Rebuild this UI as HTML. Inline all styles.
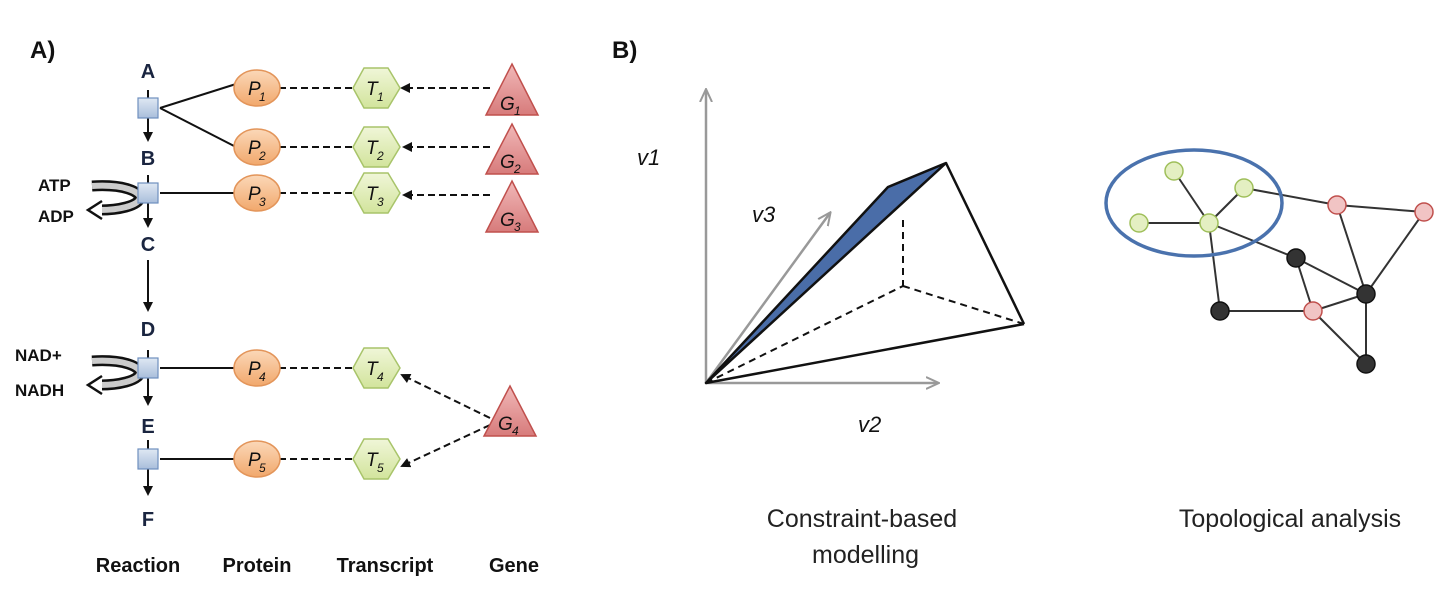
<!DOCTYPE html>
<html><head><meta charset="utf-8"><style>
html,body{margin:0;padding:0;background:#fff;}
svg{display:block;font-family:"Liberation Sans",sans-serif;}
.lab{font-weight:bold;font-size:20px;fill:#1a2540;}
.bl{font-weight:bold;font-size:20px;fill:#111;}
.it{font-style:italic;font-size:19px;fill:#111;}
.sub{font-style:italic;font-size:12px;fill:#111;}
</style></head><body>
<svg width="1448" height="612" viewBox="0 0 1448 612">
<defs>
<marker id="ah" markerWidth="10" markerHeight="10" refX="8" refY="5" orient="auto" markerUnits="userSpaceOnUse"><path d="M0,0 L10,5 L0,10 z" fill="#111"/></marker>
<marker id="ag" markerWidth="14" markerHeight="14" refX="12" refY="7" orient="auto" markerUnits="userSpaceOnUse"><path d="M0,1 L13,7 L0,13" fill="none" stroke="#999" stroke-width="2"/></marker>
<linearGradient id="sq" x1="0" y1="0" x2="0" y2="1"><stop offset="0" stop-color="#dfe8f3"/><stop offset="1" stop-color="#a9bedb"/></linearGradient>
<linearGradient id="pg" x1="0" y1="0" x2="0" y2="1"><stop offset="0" stop-color="#fbd8b8"/><stop offset="1" stop-color="#f1a86c"/></linearGradient>
<linearGradient id="tg" x1="0" y1="0" x2="0" y2="1"><stop offset="0" stop-color="#f0f6d8"/><stop offset="1" stop-color="#d2e49c"/></linearGradient>
<linearGradient id="gg" x1="0" y1="0" x2="0" y2="1"><stop offset="0" stop-color="#f1b8b8"/><stop offset="1" stop-color="#d77b7b"/></linearGradient>
</defs>

<text x="30" y="58" class="bl" style="font-size:24px">A)</text>
<text x="612" y="58" class="bl" style="font-size:24px">B)</text>

<g>
<path d="M92,186 C125,184 140,192 140,198 C138,206 118,210 100,210" fill="none" stroke="#111" stroke-width="11"/>
<path d="M92,186 C125,184 140,192 140,198 C138,206 118,210 100,210" fill="none" stroke="#ccc" stroke-width="6"/>
<path d="M102,201 L88,210 L102,219" fill="#fff" stroke="#111" stroke-width="2.5"/>
<text x="38" y="191" class="bl" style="font-size:17px">ATP</text>
<text x="38" y="222" class="bl" style="font-size:17px">ADP</text>
<path d="M92,361 C125,359 140,367 140,373 C138,381 118,385 100,385" fill="none" stroke="#111" stroke-width="11"/>
<path d="M92,361 C125,359 140,367 140,373 C138,381 118,385 100,385" fill="none" stroke="#ccc" stroke-width="6"/>
<path d="M102,376 L88,385 L102,394" fill="#fff" stroke="#111" stroke-width="2.5"/>
<text x="15" y="361" class="bl" style="font-size:17px">NAD+</text>
<text x="15" y="396" class="bl" style="font-size:17px">NADH</text>
</g>

<g>
<text x="148" y="78" class="lab" text-anchor="middle">A</text>
<text x="148" y="165" class="lab" text-anchor="middle">B</text>
<text x="148" y="251" class="lab" text-anchor="middle">C</text>
<text x="148" y="336" class="lab" text-anchor="middle">D</text>
<text x="148" y="433" class="lab" text-anchor="middle">E</text>
<text x="148" y="526" class="lab" text-anchor="middle">F</text>
<g stroke="#111" stroke-width="2">
<line x1="148" y1="90" x2="148" y2="140" marker-end="url(#ah)"/>
<line x1="148" y1="175" x2="148" y2="226" marker-end="url(#ah)"/>
<line x1="148" y1="260" x2="148" y2="310" marker-end="url(#ah)"/>
<line x1="148" y1="350" x2="148" y2="404" marker-end="url(#ah)"/>
<line x1="148" y1="440" x2="148" y2="494" marker-end="url(#ah)"/>
<line x1="160" y1="108" x2="236" y2="84"/>
<line x1="160" y1="108" x2="236" y2="147"/>
<line x1="160" y1="193" x2="236" y2="193"/>
<line x1="160" y1="368" x2="236" y2="368"/>
<line x1="160" y1="459" x2="236" y2="459"/>
</g>
<g fill="url(#sq)" stroke="#6f8fbf" stroke-width="1.2">
<rect x="138" y="98" width="20" height="20"/>
<rect x="138" y="183" width="20" height="20"/>
<rect x="138" y="358" width="20" height="20"/>
<rect x="138" y="449" width="20" height="20"/>
</g>
</g>

<g stroke="#111" stroke-width="2" stroke-dasharray="7,4" fill="none">
<line x1="279" y1="88" x2="352" y2="88"/>
<line x1="279" y1="147" x2="352" y2="147"/>
<line x1="279" y1="193" x2="352" y2="193"/>
<line x1="279" y1="368" x2="352" y2="368"/>
<line x1="279" y1="459" x2="352" y2="459"/>
<line x1="490" y1="88" x2="402" y2="88" marker-end="url(#ah)"/>
<line x1="490" y1="147" x2="404" y2="147" marker-end="url(#ah)"/>
<line x1="490" y1="195" x2="404" y2="195" marker-end="url(#ah)"/>
<line x1="490" y1="418" x2="402" y2="375" marker-end="url(#ah)"/>
<line x1="490" y1="425" x2="402" y2="466" marker-end="url(#ah)"/>
</g>

<g>
<g fill="url(#pg)" stroke="#e3955a" stroke-width="1.5">
<ellipse cx="257" cy="88" rx="23" ry="18"/><ellipse cx="257" cy="147" rx="23" ry="18"/><ellipse cx="257" cy="193" rx="23" ry="18"/><ellipse cx="257" cy="368" rx="23" ry="18"/><ellipse cx="257" cy="459" rx="23" ry="18"/>
</g>
<text x="248" y="95" class="it">P</text><text x="259" y="101" class="sub">1</text>
<text x="248" y="154" class="it">P</text><text x="259" y="160" class="sub">2</text>
<text x="248" y="200" class="it">P</text><text x="259" y="206" class="sub">3</text>
<text x="248" y="375" class="it">P</text><text x="259" y="381" class="sub">4</text>
<text x="248" y="466" class="it">P</text><text x="259" y="472" class="sub">5</text>
</g>

<g>
<g fill="url(#tg)" stroke="#a8c46a" stroke-width="1.5">
<polygon points="353,88 364,68 388,68 400,88 388,108 364,108"/>
<polygon points="353,147 364,127 388,127 400,147 388,167 364,167"/>
<polygon points="353,193 364,173 388,173 400,193 388,213 364,213"/>
<polygon points="353,368 364,348 388,348 400,368 388,388 364,388"/>
<polygon points="353,459 364,439 388,439 400,459 388,479 364,479"/>
</g>
<text x="366" y="95" class="it">T</text><text x="377" y="101" class="sub">1</text>
<text x="366" y="154" class="it">T</text><text x="377" y="160" class="sub">2</text>
<text x="366" y="200" class="it">T</text><text x="377" y="206" class="sub">3</text>
<text x="366" y="375" class="it">T</text><text x="377" y="381" class="sub">4</text>
<text x="366" y="466" class="it">T</text><text x="377" y="472" class="sub">5</text>
</g>

<g>
<g fill="url(#gg)" stroke="#c0504d" stroke-width="1.5">
<polygon points="512,64 538,115 486,115"/>
<polygon points="512,124 538,174 486,174"/>
<polygon points="512,181 538,232 486,232"/>
<polygon points="510,386 536,436 484,436"/>
</g>
<text x="500" y="110" class="it">G</text><text x="514" y="115" class="sub">1</text>
<text x="500" y="168" class="it">G</text><text x="514" y="173" class="sub">2</text>
<text x="500" y="226" class="it">G</text><text x="514" y="231" class="sub">3</text>
<text x="498" y="430" class="it">G</text><text x="512" y="435" class="sub">4</text>
</g>

<g>
<text x="138" y="572" class="bl" text-anchor="middle">Reaction</text>
<text x="257" y="572" class="bl" text-anchor="middle">Protein</text>
<text x="385" y="572" class="bl" text-anchor="middle">Transcript</text>
<text x="514" y="572" class="bl" text-anchor="middle">Gene</text>
</g>

<g>
<line x1="706" y1="383" x2="706" y2="90" stroke="#999" stroke-width="2.5" marker-end="url(#ag)"/>
<line x1="706" y1="383" x2="938" y2="383" stroke="#999" stroke-width="2.5" marker-end="url(#ag)"/>
<line x1="706" y1="383" x2="830" y2="213" stroke="#999" stroke-width="2.5" marker-end="url(#ag)"/>
<text x="637" y="165" style="font-style:italic;font-size:22px" fill="#111">v1</text>
<text x="752" y="222" style="font-style:italic;font-size:22px" fill="#111">v3</text>
<text x="858" y="432" style="font-style:italic;font-size:22px" fill="#111">v2</text>
<polygon points="706,383 888,187 946,163" fill="#4a6da8" stroke="#111" stroke-width="2.5" stroke-linejoin="round"/>
<g stroke="#111" stroke-width="2" stroke-dasharray="7,5">
<line x1="903" y1="220" x2="903" y2="286"/><line x1="903" y1="286" x2="1024" y2="324"/><line x1="706" y1="383" x2="903" y2="286"/>
</g>
<g stroke="#111" stroke-width="2.5" fill="none">
<line x1="946" y1="163" x2="1024" y2="324"/><line x1="706" y1="383" x2="1024" y2="324"/>
</g>
<text x="862" y="527" text-anchor="middle" style="font-size:25px" fill="#222">Constraint-based</text>
<text x="812" y="563" style="font-size:25px" fill="#222">modelling</text>
</g>

<g>
<g stroke="#333" stroke-width="2">
<line x1="1174" y1="171" x2="1209" y2="223"/><line x1="1244" y1="188" x2="1209" y2="223"/><line x1="1139" y1="223" x2="1209" y2="223"/>
<line x1="1244" y1="188" x2="1337" y2="205"/><line x1="1209" y1="223" x2="1296" y2="258"/><line x1="1209" y1="223" x2="1220" y2="311"/>
<line x1="1337" y1="205" x2="1424" y2="212"/><line x1="1337" y1="205" x2="1366" y2="294"/><line x1="1424" y1="212" x2="1366" y2="294"/>
<line x1="1296" y1="258" x2="1366" y2="294"/><line x1="1296" y1="258" x2="1313" y2="311"/><line x1="1313" y1="311" x2="1366" y2="294"/>
<line x1="1220" y1="311" x2="1313" y2="311"/><line x1="1313" y1="311" x2="1366" y2="364"/><line x1="1366" y1="294" x2="1366" y2="364"/>
</g>
<ellipse cx="1194" cy="203" rx="88" ry="53" fill="none" stroke="#4a72ad" stroke-width="3.5"/>
<g fill="#e4efc2" stroke="#9fbf5a" stroke-width="1.5">
<circle cx="1174" cy="171" r="9"/><circle cx="1244" cy="188" r="9"/><circle cx="1139" cy="223" r="9"/><circle cx="1209" cy="223" r="9"/>
</g>
<g fill="#f1c4c4" stroke="#c0504d" stroke-width="1.5">
<circle cx="1337" cy="205" r="9"/><circle cx="1424" cy="212" r="9"/><circle cx="1313" cy="311" r="9"/>
</g>
<g fill="#333" stroke="#111" stroke-width="1.5">
<circle cx="1296" cy="258" r="9"/><circle cx="1366" cy="294" r="9"/><circle cx="1220" cy="311" r="9"/><circle cx="1366" cy="364" r="9"/>
</g>
<text x="1290" y="527" text-anchor="middle" style="font-size:25px" fill="#222">Topological analysis</text>
</g>
</svg>
</body></html>
